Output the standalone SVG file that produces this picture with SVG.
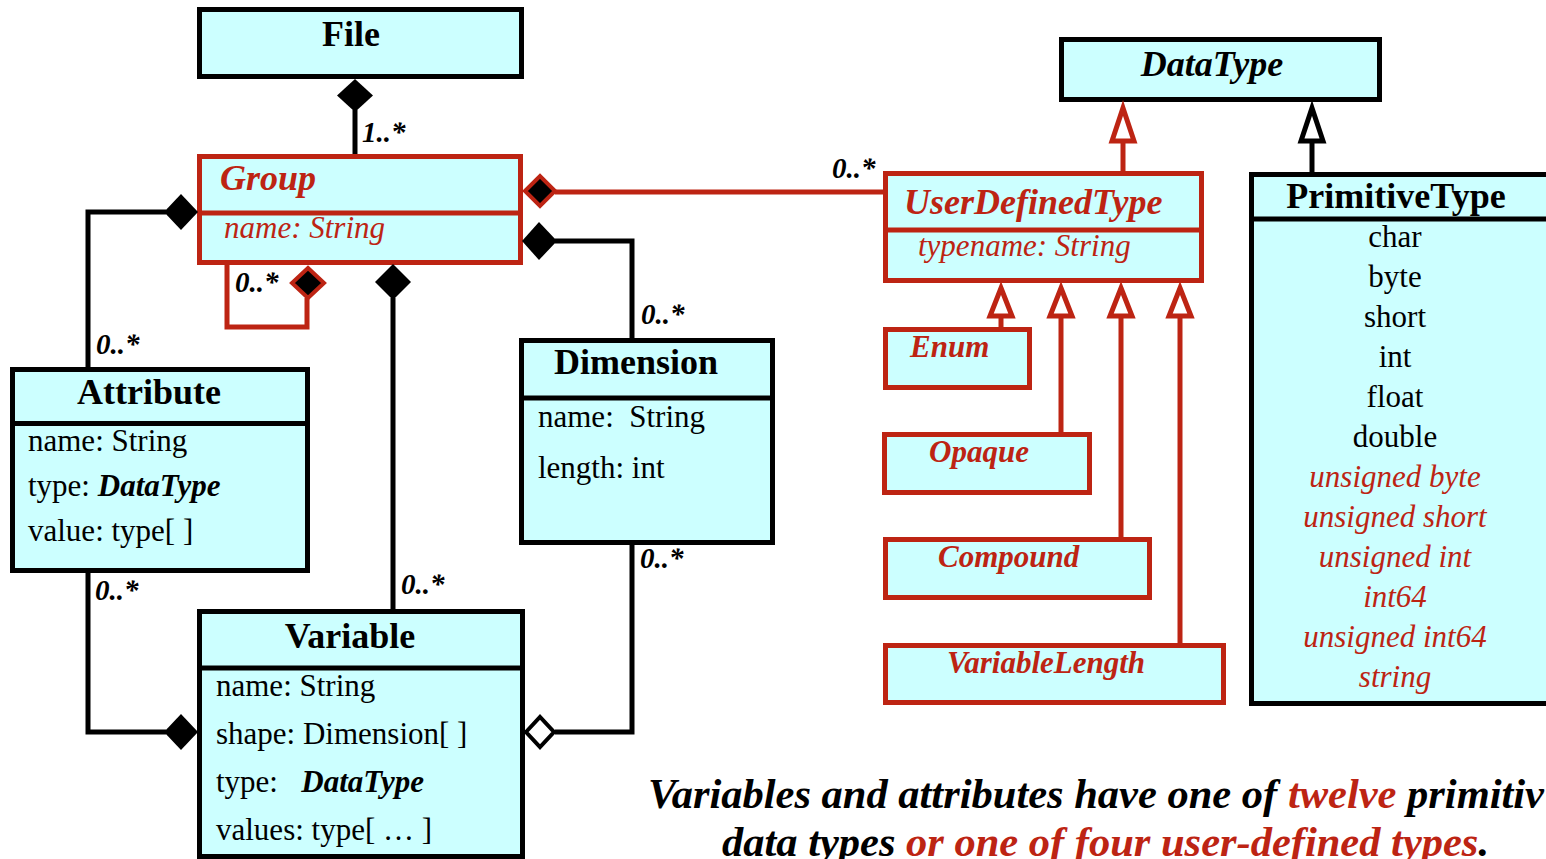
<svg xmlns="http://www.w3.org/2000/svg" width="1546" height="859" viewBox="0 0 1546 859">
  <style>
    text { font-family: "Liberation Serif", "Times New Roman", serif; }
    .box { fill: #ccffff; stroke: #000; stroke-width: 5; }
    .rbox { fill: #ccffff; stroke: #bd2413; stroke-width: 5; }
    .div { stroke: #000; stroke-width: 5; }
    .rdiv { stroke: #bd2413; stroke-width: 5; }
    .title { font-size: 36px; font-weight: bold; fill: #000; }
    .rtitle { font-size: 36px; font-weight: bold; font-style: italic; fill: #bd2413; }
    .sub { font-size: 31px; font-weight: bold; font-style: italic; fill: #bd2413; }
    .attr { font-size: 31px; fill: #000; }
    .rattr { font-size: 31px; font-style: italic; fill: #bd2413; }
    .bi { font-weight: bold; font-style: italic; }
    .mult { font-size: 29px; font-weight: bold; font-style: italic; fill: #000; }
    .line { fill: none; stroke: #000; stroke-width: 5; }
    .rline { fill: none; stroke: #bd2413; stroke-width: 5; }
    .comp { fill: #000; stroke: none; }
    .rcomp { fill: #000; stroke: #bd2413; stroke-width: 4; }
    .agg { fill: #fff; stroke: #000; stroke-width: 4; }
    .gen { fill: #fff; stroke: #000; stroke-width: 5; }
    .rgen { fill: #fff; stroke: #bd2413; stroke-width: 5; }
    .caption { font-size: 42px; font-weight: bold; font-style: italic; fill: #000; }
    .red { fill: #bd2413; }
  </style>

  <!-- association lines -->
  <g id="connectors">
    <!-- File to Group -->
    <line class="line" x1="355" y1="110" x2="355" y2="156"/>
    <!-- Group self loop -->
    <path class="rline" d="M227,265 V327 H307 V298"/>
    <!-- Group to Attribute -->
    <path class="line" d="M166,212 H88 V369"/>
    <!-- Group to Variable -->
    <line class="line" x1="393" y1="298" x2="393" y2="612"/>
    <!-- Group to Dimension -->
    <path class="line" d="M555,241 H632 V341"/>
    <!-- Group to UserDefinedType -->
    <line class="rline" x1="555" y1="192" x2="884" y2="192"/>
    <!-- Attribute to Variable -->
    <path class="line" d="M88,572 V732 H166"/>
    <!-- Dimension to Variable -->
    <path class="line" d="M632,543 V732 H555"/>
    <!-- generalisations -->
    <line class="rline" x1="1123" y1="141" x2="1123" y2="174"/>
    <line class="line" x1="1312" y1="141" x2="1312" y2="175"/>
    <line class="rline" x1="1001" y1="316" x2="1001" y2="330"/>
    <line class="rline" x1="1061" y1="316" x2="1061" y2="435"/>
    <line class="rline" x1="1121" y1="316" x2="1121" y2="540"/>
    <line class="rline" x1="1180" y1="316" x2="1180" y2="646"/>

    <!-- multiplicities -->
    <text class="mult" x="362" y="142">1..*</text>
    <text class="mult" x="235" y="292">0..*</text>
    <text class="mult" x="96" y="354">0..*</text>
    <text class="mult" x="641" y="324">0..*</text>
    <text class="mult" x="832" y="178">0..*</text>
    <text class="mult" x="401" y="594">0..*</text>
    <text class="mult" x="95" y="600">0..*</text>
    <text class="mult" x="640" y="568">0..*</text>
  </g>

  <g id="File">
    <rect class="box" x="199.5" y="9.5" width="322" height="67"/>
    <text class="title" x="351" y="46" text-anchor="middle">File</text>
  </g>

  <g id="Group">
    <rect class="rbox" x="199.5" y="156.5" width="321" height="106"/>
    <line class="rdiv" x1="199.5" y1="213" x2="520.5" y2="213"/>
    <text class="rtitle" x="220" y="190">Group</text>
    <text class="rattr" x="224" y="238">name: String</text>
  </g>

  <g id="Attribute">
    <rect class="box" x="12.5" y="369.5" width="295" height="201"/>
    <line class="div" x1="12.5" y1="423.5" x2="307.5" y2="423.5"/>
    <text class="title" x="149" y="404" text-anchor="middle">Attribute</text>
    <text class="attr" x="28" y="451">name: String</text>
    <text class="attr" x="28" y="496">type: <tspan class="bi">DataType</tspan></text>
    <text class="attr" x="28" y="541">value: type[ ]</text>
  </g>

  <g id="Dimension">
    <rect class="box" x="521.5" y="340.5" width="251" height="202"/>
    <line class="div" x1="521.5" y1="398" x2="772.5" y2="398"/>
    <text class="title" x="636" y="374" text-anchor="middle">Dimension</text>
    <text class="attr" x="538" y="427" xml:space="preserve">name:  String</text>
    <text class="attr" x="538" y="478">length: int</text>
  </g>

  <g id="Variable">
    <rect class="box" x="199.5" y="611.5" width="323" height="245"/>
    <line class="div" x1="199.5" y1="668" x2="522.5" y2="668"/>
    <text class="title" x="350" y="648" text-anchor="middle">Variable</text>
    <text class="attr" x="216" y="696">name: String</text>
    <text class="attr" x="216" y="744">shape: Dimension[ ]</text>
    <text class="attr" x="216" y="792" xml:space="preserve">type:   <tspan class="bi">DataType</tspan></text>
    <text class="attr" x="216" y="840">values: type[ … ]</text>
  </g>

  <g id="DataType">
    <rect class="box" x="1061.5" y="39.5" width="318" height="60"/>
    <text class="title" x="1212" y="76" text-anchor="middle" font-style="italic">DataType</text>
  </g>

  <g id="UserDefinedType">
    <rect class="rbox" x="885.5" y="173.5" width="316" height="107"/>
    <line class="rdiv" x1="885.5" y1="230" x2="1201.5" y2="230"/>
    <text class="rtitle" x="904" y="214">UserDefinedType</text>
    <text class="rattr" x="918" y="256">typename: String</text>
  </g>

  <g id="PrimitiveType">
    <rect class="box" x="1251.5" y="174.5" width="400" height="529"/>
    <line class="div" x1="1251.5" y1="219" x2="1546" y2="219"/>
    <text class="title" x="1396" y="208" text-anchor="middle">PrimitiveType</text>
    <g text-anchor="middle">
      <text class="attr" x="1395" y="247">char</text>
      <text class="attr" x="1395" y="287">byte</text>
      <text class="attr" x="1395" y="327">short</text>
      <text class="attr" x="1395" y="367">int</text>
      <text class="attr" x="1395" y="407">float</text>
      <text class="attr" x="1395" y="447">double</text>
      <text class="rattr" x="1395" y="487">unsigned byte</text>
      <text class="rattr" x="1395" y="527">unsigned short</text>
      <text class="rattr" x="1395" y="567">unsigned int</text>
      <text class="rattr" x="1395" y="607">int64</text>
      <text class="rattr" x="1395" y="647">unsigned int64</text>
      <text class="rattr" x="1395" y="687">string</text>
    </g>
  </g>

  <g id="Enum">
    <rect class="rbox" x="885.5" y="329.5" width="144" height="58"/>
    <text class="sub" x="910" y="357">Enum</text>
  </g>

  <g id="Opaque">
    <rect class="rbox" x="884.5" y="434.5" width="205" height="58"/>
    <text class="sub" x="929" y="462">Opaque</text>
  </g>

  <g id="Compound">
    <rect class="rbox" x="885.5" y="539.5" width="264" height="58"/>
    <text class="sub" x="938" y="567">Compound</text>
  </g>

  <g id="VariableLength">
    <rect class="rbox" x="885.5" y="645.5" width="338" height="57"/>
    <text class="sub" x="947" y="673">VariableLength</text>
  </g>

  <!-- association ends and generalisation heads -->
  <g id="ends">
    <polygon class="comp" points="355,79 373,95.5 355,112 337,95.5"/>
    <polygon class="rcomp" points="308,268 324,283 308,298 292,283"/>
    <polygon class="comp" points="393,264 411,282 393,300 375,282"/>
    <polygon class="comp" points="198,212 181,194 164,212 181,230"/>
    <polygon class="rcomp" points="525,191 540,176 555,191 540,206"/>
    <polygon class="comp" points="522,241 539,222 557,241 539,260"/>
    <polygon class="comp" points="198,732 181,714 164,732 181,750"/>
    <polygon class="agg" points="526,732 540,717 554,732 540,747"/>
    <polygon class="rgen" points="1123,108 1134,141 1112,141"/>
    <polygon class="gen" points="1312,108 1323,141 1301,141"/>
    <polygon class="rgen" points="1001,288 1012,316 990,316"/>
    <polygon class="rgen" points="1061,288 1072,316 1050,316"/>
    <polygon class="rgen" points="1121,288 1132,316 1110,316"/>
    <polygon class="rgen" points="1180,288 1191,316 1169,316"/>
  </g>

  <g id="caption">
    <text class="caption" x="648" y="808" textLength="896" lengthAdjust="spacingAndGlyphs" xml:space="preserve">Variables and attributes have one of <tspan class="red">twelve</tspan> primitiv</text>
    <text class="caption" x="722" y="856" textLength="767" lengthAdjust="spacingAndGlyphs" xml:space="preserve">data types <tspan class="red">or one of four user-defined types</tspan>.</text>
  </g>
</svg>
